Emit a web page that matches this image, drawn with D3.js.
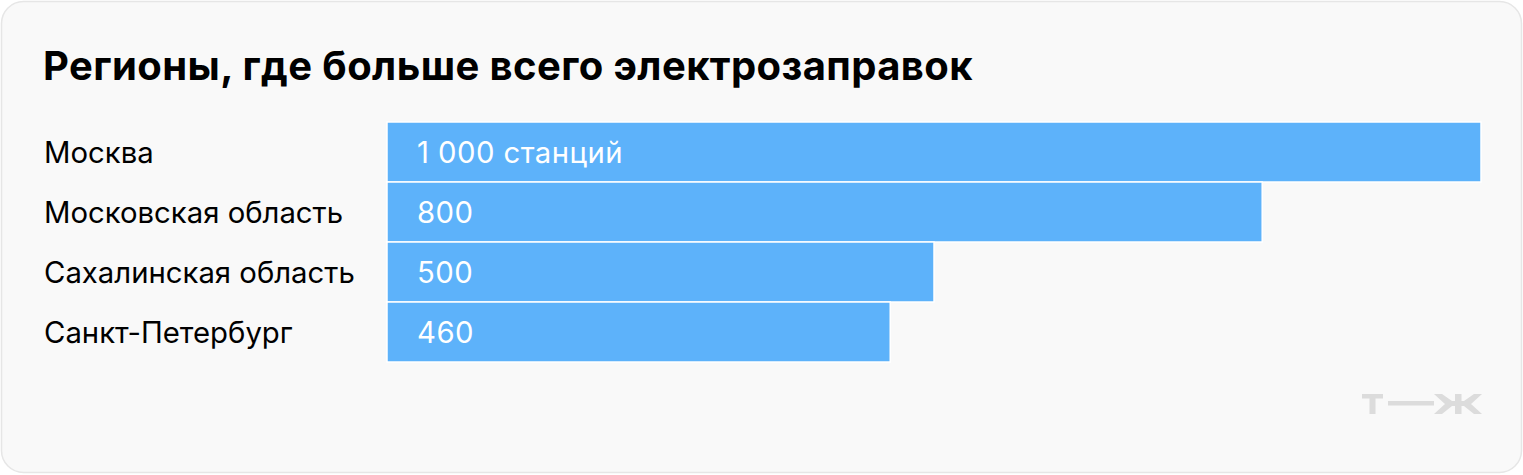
<!DOCTYPE html>
<html><head><meta charset="utf-8">
<script src="https://cdn.jsdelivr.net/npm/d3@7"></script>
<style>html,body{margin:0;padding:0;background:#fff;}svg{display:block;}</style>
</head><body>
<svg id="c" width="1523" height="475"></svg>
<script>
const categories = ["Москва", "Московская область", "Сахалинская область", "Санкт-Петербург"];
const values = [1000, 800, 500, 460];
const valueLabels = ["1 000 станций", "800", "500", "460"];
const title = "Регионы, где больше всего электрозаправок";

const svg = d3.select("#c");
const font = "Inter, 'Noto Sans', sans-serif";

svg.append("rect").attr("x", 1.5).attr("y", 1.5).attr("width", 1520).attr("height", 471)
  .attr("rx", 22).attr("fill", "#f9f9f9").attr("stroke", "#e6e6e6").attr("stroke-width", 1.5);

svg.append("text").attr("x", 43).attr("y", 80).text(title)
  .attr("font-family", font).attr("font-weight", 700).attr("font-size", 40).attr("fill", "#000")
  .attr("letter-spacing", "0.4px");

const x = d3.scaleLinear().domain([0, 1000]).range([387, 1481]);
const y = d3.scaleBand().domain(categories).range([122, 362]).paddingInner(0).paddingOuter(0);

svg.selectAll("rect.bar").data(values).join("rect").attr("class", "bar")
  .attr("x", x(0)).attr("y", (d, i) => y(categories[i]))
  .attr("width", d => x(d) - x(0)).attr("height", y.bandwidth())
  .attr("fill", "#5db2fa").attr("stroke", "#ffffff").attr("stroke-width", 1.5);

svg.selectAll("text.cat").data(categories).join("text").attr("class", "cat")
  .attr("x", 44).attr("y", d => y(d) + y.bandwidth() / 2 + 10.5).text(d => d)
  .attr("font-family", font).attr("font-size", 29.3).attr("fill", "#000");

svg.selectAll("text.val").data(valueLabels).join("text").attr("class", "val")
  .attr("x", 417).attr("y", (d, i) => y(categories[i]) + y.bandwidth() / 2 + 10.5).text(d => d)
  .attr("font-family", font).attr("font-size", 29.3).attr("fill", "#fff").attr("letter-spacing", "0.45px");

// logo т—ж
const g = svg.append("g").attr("fill", "#dcdcdc");
g.append("rect").attr("x", 1362).attr("y", 394).attr("width", 21).attr("height", 4.5);
g.append("rect").attr("x", 1369.5).attr("y", 394).attr("width", 6).attr("height", 20);
g.append("rect").attr("x", 1388).attr("y", 401).attr("width", 46).attr("height", 4.5);
g.append("rect").attr("x", 1455).attr("y", 394).attr("width", 6.5).attr("height", 20);
g.append("path").attr("d",
  "M1434,394 L1442,394 L1452,401 L1464,401 L1474,394 L1482,394 L1471,404 L1482,414 L1474,414 L1464,406 L1452,406 L1442,414 L1434,414 L1445,404 Z");
</script>
</body></html>
